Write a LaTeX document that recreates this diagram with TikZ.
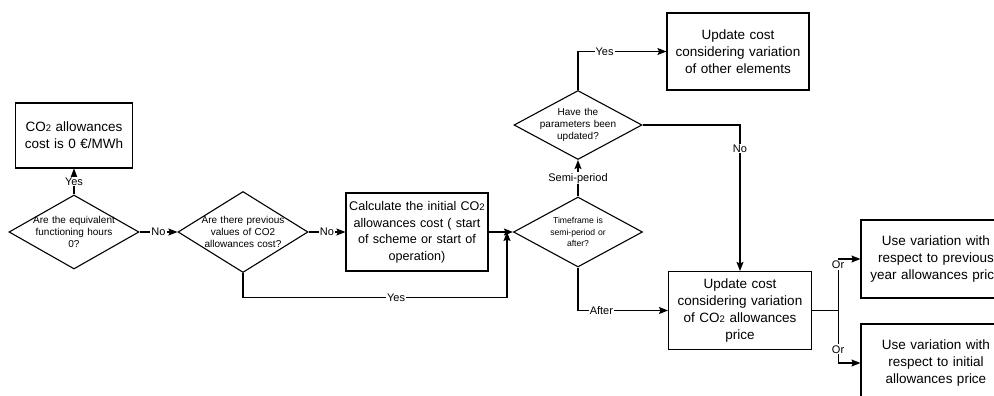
\documentclass[tikz,border=0pt]{standalone}
\usepackage{fontspec}
\setmainfont{Liberation Sans}
\usetikzlibrary{shapes.geometric,arrows.meta}

\newcommand{\cotwo}{CO{\fontsize{9.5}{9.5}\selectfont 2}}

\tikzstyle{process} = [rectangle, draw=black, line width=1.1pt, inner sep=0pt, align=center, font=\fontsize{13.5}{17}\selectfont, minimum width=143pt, text width=143pt, minimum height=78pt]
\tikzstyle{decision} = [diamond, aspect=1.75, draw=black, line width=1.1pt, inner xsep=0pt, inner ysep=-8pt, align=center, font=\fontsize{10}{12}\selectfont]
\tikzstyle{answer} = [fill=white, inner sep=1pt, font=\fontsize{11}{11}\selectfont]
\tikzstyle{arrow} = [line width=1.1pt,->,>={Stealth[length=9pt,width=7pt,inset=1.5pt]}]

\begin{document}
\begin{tikzpicture}[x=1pt, y=-1pt, node distance=170pt]
	\useasboundingbox (0,0) rectangle (994,396);
	
	\node (hours) [decision, text width=84pt, minimum width=130pt, minimum height=74pt] at (74,232) {Are the equivalent\\functioning hours\\0?};
	\node (zero) [process, above of=hours, node distance=96.5pt, text width=117pt, minimum width=117pt, minimum height=65pt] {\cotwo{} allowances\\cost is 0 €/MWh};
	\node (prev) [decision, right of=hours, xshift=-1pt, text width=86pt, minimum width=130pt, minimum height=81pt] {Are there previous\\values of CO2\\allowances cost?};
	\node (calc) [process, right of=prev, xshift=4pt, text width=142pt, minimum width=142pt, font=\fontsize{12.6}{16.5}\selectfont] {Calculate the initial \cotwo\\allowances cost ( start\\of scheme or start of\\operation)};
	\node (frame) [decision, right of=calc, xshift=-9pt, text width=70pt, minimum width=129pt, minimum height=70pt, font=\fontsize{8.6}{11.5}\selectfont] {Timeframe is\\semi-period or\\after?};
	\node (param) [decision, above of=frame, node distance=107pt, text width=80pt, minimum width=128pt, minimum height=69pt] {Have the\\parameters been\\updated?};
	\node (other) [process, above of=param, node distance=73.5pt, xshift=160pt, text width=142pt, minimum width=142pt, minimum height=77pt] {Update cost\\considering variation\\of other elements};
	\node (update) [process, right of=frame, xshift=-8pt, yshift=-78.5pt] {Update cost\\considering variation\\of \cotwo{} allowances\\price};
	\node (prevyear) [process, right of=update, xshift=26pt, yshift=51.5pt, text width=150pt, minimum width=150pt] {Use variation with\\respect to previous\\year allowances price};
	\node (initial) [process, below of=prevyear, node distance=104pt, text width=150pt, minimum width=150pt] {Use variation with\\respect to initial\\allowances price};
	
	\coordinate (join) at (507,232);
	
	\draw [arrow] (hours.north) -- node[answer] {Yes} (hours.north |- zero.south);
	\draw [arrow] (hours.east) -- node[answer] {No} (prev.west);
	\draw [arrow] (prev.east) -- node[answer] {No} (calc.west);
	\draw [arrow] (calc.east) -- (frame.west);
	\draw [arrow] (prev.south) -- ++(0,24.5) -| node[answer, pos=0.29] {Yes} (join);
	\draw [arrow] (frame.north) -- node[answer] {Semi-period} (param.south);
	\draw [arrow] (param.north) |- node[answer, pos=0.65] {Yes} (other.west);
	\draw [arrow] (param.east) -| node[answer, pos=0.58] {No} (update.north);
	\draw [arrow] (frame.south) |- node[answer, pos=0.63] {After} (update.west);
	\draw [line width=1.1pt] (update.east) -- ++(26,0) coordinate (split);
	\draw [arrow] (split) |- node[answer, pos=0.44] {Or} (prevyear.west);
	\draw [arrow] (split) |- node[answer, pos=0.37] {Or} (initial.west);
	
\end{tikzpicture}
\end{document}
